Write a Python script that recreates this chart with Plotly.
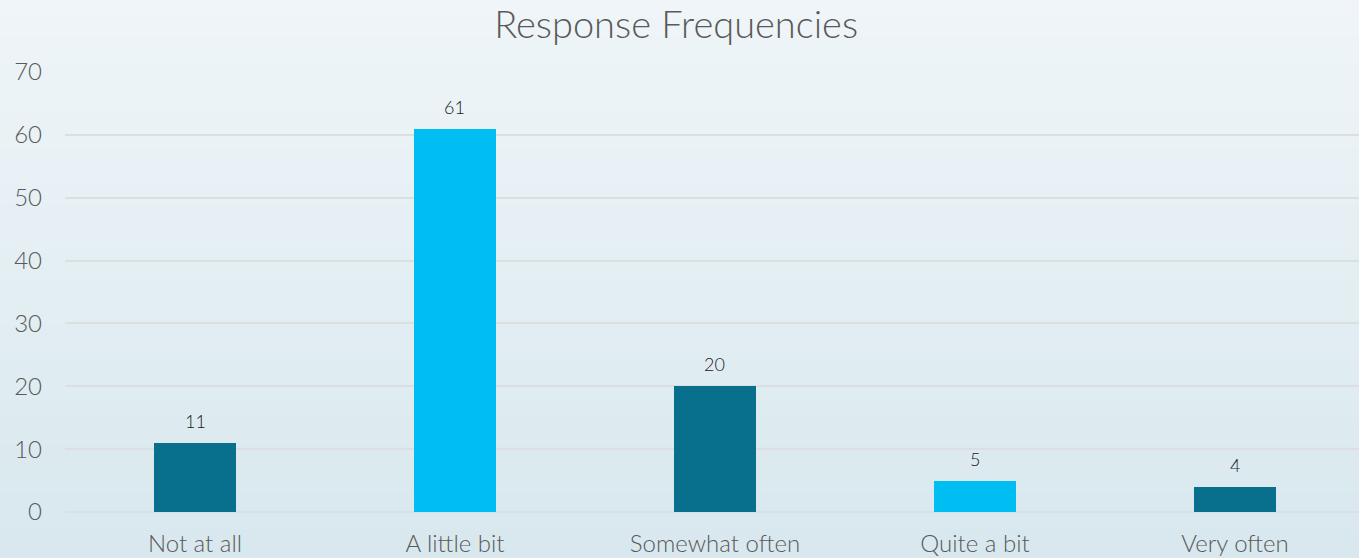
import plotly.graph_objects as go

categories = ["Not at all", "A little bit", "Somewhat often", "Quite a bit", "Very often"]
values = [11, 61, 20, 5, 4]
bar_colors = ["#08708C", "#00BEF2", "#08708C", "#00BEF2", "#08708C"]
y_ticks = [0, 10, 20, 30, 40, 50, 60, 70]

FONT = "Lato"
W, H = 1359, 558
ml, mr, mt, mb = 65, 0, 72, 46

fig = go.Figure(go.Bar(
    x=categories, y=values,
    marker=dict(color=bar_colors, line=dict(width=0)),
    width=0.315,
    cliponaxis=False,
))

for c, v in zip(categories, values):
    fig.add_annotation(x=c, y=v, text=str(v), showarrow=False, yanchor="middle",
                       yshift=22, font=dict(family=FONT, size=18, color="#1A1A1A", weight=300))

# background vertical gradient (figure-wide)
top = (239, 245, 248)
bot = (216, 232, 238)
n = 60
ph = H - mt - mb
y0p = -mb / ph
y1p = 1 + mt / ph
shapes = []
for i in range(n):
    t = i / (n - 1)
    c = tuple(round(top[k] + (bot[k] - top[k]) * t) for k in range(3))
    ya = y1p - (y1p - y0p) * i / n
    yb = y1p - (y1p - y0p) * (i + 1) / n
    shapes.append(dict(type="rect", xref="paper", yref="paper",
                       x0=-0.1, x1=1.1, y0=yb - 0.002, y1=ya + 0.002,
                       fillcolor="rgb(%d,%d,%d)" % c, line=dict(width=0), layer="below"))

fig.update_layout(
    width=W, height=H,
    margin=dict(l=ml, r=mr, t=mt, b=mb),
    paper_bgcolor="#E6EFF3", plot_bgcolor="rgba(0,0,0,0)",
    shapes=shapes,
    title=dict(text="Response Frequencies", x=0.4975, xref="container", xanchor="center",
               y=1 - 25 / H, yanchor="middle",
               font=dict(family=FONT, size=38, color="#595959", weight=300)),
    showlegend=False,
    bargap=0,
    xaxis=dict(range=[-0.5, 4.477], showgrid=False, zeroline=False, showline=False,
               ticks="", tickfont=dict(family=FONT, size=24, color="#595959", weight=300),
               ticklabelstandoff=15),
    yaxis=dict(range=[0, 70], tickvals=y_ticks, showgrid=True, gridcolor="#DCDFE1",
               gridwidth=1.5, zeroline=True, zerolinecolor="#DCDFE1", zerolinewidth=1.5,
               showline=False, ticks="",
               tickfont=dict(family=FONT, size=24, color="#595959", weight=300),
               ticklabelstandoff=22),
)

fig.write_html("out.html")
